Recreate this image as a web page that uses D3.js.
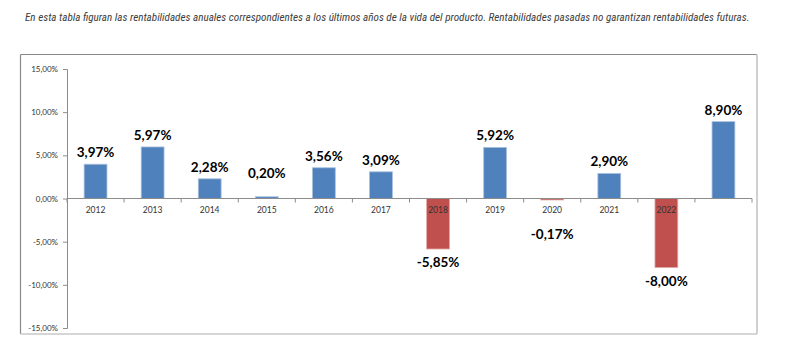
<!DOCTYPE html>
<html><head><meta charset="utf-8">
<script src="https://cdn.jsdelivr.net/npm/d3@7"></script>
<style>
html,body{margin:0;padding:0;background:#fff;}
svg{display:block;}
</style></head>
<body>
<svg id="chart" width="801" height="355"></svg>
<script>
const title = "En esta tabla figuran las rentabilidades anuales correspondientes a los últimos años de la vida del producto. Rentabilidades pasadas no garantizan rentabilidades futuras.";
const categories = ["2012","2013","2014","2015","2016","2017","2018","2019","2020","2021","2022",""];
const values = [3.97, 5.97, 2.28, 0.20, 3.56, 3.09, -5.85, 5.92, -0.17, 2.90, -8.00, 8.90];
const valueLabels = ["3,97%","5,97%","2,28%","0,20%","3,56%","3,09%","-5,85%","5,92%","-0,17%","2,90%","-8,00%","8,90%"];
const yTicks = [-15, -10, -5, 0, 5, 10, 15];
const yTickLabels = ["-15,00%","-10,00%","-5,00%","0,00%","5,00%","10,00%","15,00%"];

const svg = d3.select("#chart");

// Title: pick the font size so the line spans the same width as in the reference
const t = svg.append("text")
  .attr("x", 25).attr("y", 21)
  .attr("font-family", "'Liberation Sans Narrow', 'Roboto Condensed', Roboto, sans-serif")
  .attr("font-style", "italic")
  .attr("font-size", 11)
  .attr("fill", "#404040")
  .text(title);
const natural = t.node().getComputedTextLength();
const fs = Math.min(12, 11 * 725 / natural);
t.attr("font-size", fs.toFixed(2));

// Frame
const fx0 = 20.5, fy0 = 54.5, fx1 = 757, fy1 = 334;
svg.append("line").attr("x1", fx0).attr("x2", fx1).attr("y1", fy0).attr("y2", fy0).attr("stroke", "#8a8a8a").attr("stroke-width", 1.2);
svg.append("line").attr("x1", fx0).attr("x2", fx0).attr("y1", fy0).attr("y2", fy1).attr("stroke", "#8a8a8a").attr("stroke-width", 1.2);
svg.append("line").attr("x1", fx1).attr("x2", fx1).attr("y1", fy0).attr("y2", fy1).attr("stroke", "#d0d0d0").attr("stroke-width", 2);
svg.append("line").attr("x1", fx0).attr("x2", fx1).attr("y1", fy1).attr("y2", fy1).attr("stroke", "#c8c8c8").attr("stroke-width", 1.5);

// Scales
const x = d3.scaleBand().domain(categories).range([67, 752]).padding(0);
const y = d3.scaleLinear().domain([-15, 15]).range([328, 69]);
const barW = x.bandwidth() * 0.4;

const axisColor = "#8c8c8c";

// Bars
svg.append("g").selectAll("rect.bar").data(values).enter().append("rect")
  .attr("class", "bar")
  .attr("x", (d, i) => x(categories[i]) + (x.bandwidth() - barW) / 2)
  .attr("y", d => y(Math.max(0, d)))
  .attr("width", barW)
  .attr("height", d => Math.abs(y(d) - y(0)))
  .attr("fill", d => d < 0 ? "#C0504D" : "#4F81BD")
  .attr("stroke", d => d < 0 ? "#e4a9a8" : "#a7c0de")
  .attr("stroke-width", 0.8);

// Y axis
const yAxis = d3.axisLeft(y).tickValues(yTicks).tickSize(4).tickFormat((d, i) => yTickLabels[i]);
const ya = svg.append("g").attr("transform", "translate(67,0)").call(yAxis);
ya.select(".domain").attr("stroke", axisColor);
ya.selectAll(".tick line").attr("stroke", axisColor);
ya.selectAll(".tick text")
  .attr("font-family", "Lato, sans-serif")
  .attr("font-size", 8)
  .attr("fill", "#333")
  .attr("x", -9);

// X axis line at zero
svg.append("line").attr("x1", 67).attr("x2", 752).attr("y1", y(0)).attr("y2", y(0)).attr("stroke", axisColor);
const bounds = categories.map(c => x(c)).concat([x.range()[1]]);
svg.selectAll("line.xt").data(bounds).enter().append("line")
  .attr("class", "xt")
  .attr("x1", d => d).attr("x2", d => d)
  .attr("y1", y(0)).attr("y2", y(0) + 4)
  .attr("stroke", axisColor);

// Category labels
svg.selectAll("text.cat").data(categories).enter().append("text")
  .attr("class", "cat")
  .attr("x", d => x(d) + x.bandwidth() / 2)
  .attr("y", y(0) + 14)
  .attr("text-anchor", "middle")
  .attr("font-family", "Lato, sans-serif")
  .attr("font-size", 8.5)
  .attr("fill", "#333")
  .text(d => d);

// Value labels (kept clear of the category labels)
svg.selectAll("text.val").data(values).enter().append("text")
  .attr("class", "val")
  .attr("x", (d, i) => x(categories[i]) + x.bandwidth() / 2)
  .attr("y", d => d >= 0 ? Math.min(y(d), y(0) - 14) - 7 : Math.max(y(d), y(0) + 22) + 18)
  .attr("text-anchor", "middle")
  .attr("font-family", "Lato, sans-serif")
  .attr("font-weight", "bold")
  .attr("font-size", 13.5)
  .attr("fill", "#000")
  .text((d, i) => valueLabels[i]);
</script>
</body></html>
